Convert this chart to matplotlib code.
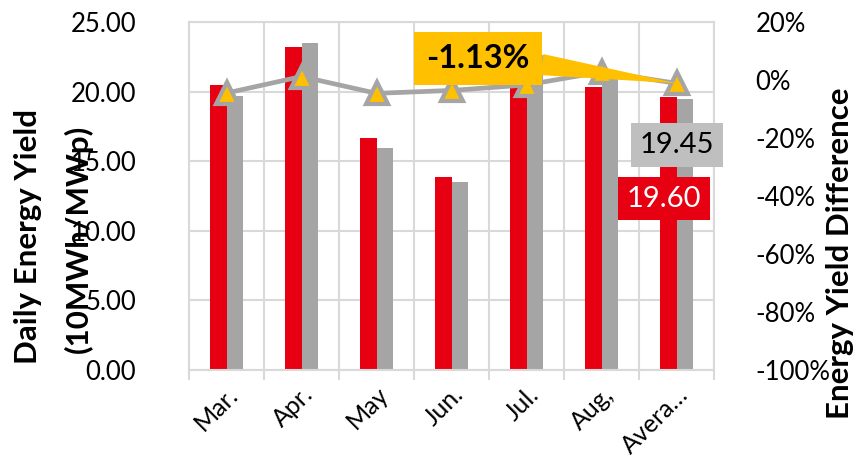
import matplotlib.pyplot as plt
import numpy as np

plt.rcParams['font.family'] = ['Lato', 'DejaVu Sans']

# data
months = ['Mar.', 'Apr.', 'May', 'Jun.', 'Jul.', 'Aug,', 'Avera…']
yield_red = [20.45, 23.23, 16.67, 13.86, 20.9, 20.35, 19.60]
yield_gray = [19.66, 23.51, 15.95, 13.48, 22.63, 20.9, 19.45]
diff_pct = [-4.5, 1.2, -4.6, -3.6, -1.7, 2.8, -1.13]

RED = '#E60012'
GRAY = '#A5A5A5'
YELLOW = '#FFC000'
GRID = '#D9D9D9'

fig = plt.figure(figsize=(8.61, 4.58), dpi=100)
ax1 = fig.add_axes([189 / 861, 1 - 370 / 458, 525 / 861, 348 / 458])
ax2 = ax1.twinx()

x = np.arange(len(months))
w = 0.22
ax1.bar(x - w / 2, yield_red, w, color=RED, zorder=2)
ax1.bar(x + w / 2, yield_gray, w, color=GRAY, zorder=2)

ax1.set_xlim(-0.5, len(months) - 0.5)
ax1.set_ylim(0, 25)
ax1.set_yticks(np.arange(0, 26, 5))
ax1.set_yticklabels([f'{v:.2f}' for v in np.arange(0, 26, 5)], fontsize=18.5)
ax1.set_xticks(x)
ax1.set_xticklabels(months, rotation=45, ha='right', rotation_mode='anchor', fontsize=18)
ax1.set_xticks(np.arange(-0.5, len(months)), minor=True)
ax1.tick_params(axis='x', which='major', length=0, pad=9)
ax1.tick_params(axis='x', which='minor', length=7, color=GRID, width=1.5)
ax1.tick_params(axis='y', length=0, pad=38)
ax1.grid(axis='y', color=GRID, lw=1.5, zorder=0)
ax1.grid(axis='x', which='minor', color=GRID, lw=1.5, zorder=0)
ax1.set_axisbelow(True)
for s in ax1.spines.values():
    s.set_color(GRID)
    s.set_linewidth(1.5)
for s in ax2.spines.values():
    s.set_visible(False)

ax2.plot(x, diff_pct, color=GRAY, lw=3.4, marker='^', ms=16, mfc=YELLOW, mec=GRAY, mew=3, zorder=3)
ax2.set_ylim(-100, 20)
ax2.set_yticks(np.arange(-100, 21, 20))
ax2.set_yticklabels([f'{v}%' for v in range(-100, 21, 20)], fontsize=18.5)
ax2.tick_params(axis='y', length=0, pad=30)

fig.text(28 / 861, 1 - 237 / 458, 'Daily Energy Yield', rotation=90, ha='center', va='center',
         fontsize=22.5, fontweight='bold')
fig.text(78 / 861, 1 - 239 / 458, '(10MWh/MWp)', rotation=90, ha='center', va='center',
         fontsize=22.5, fontweight='bold')
fig.text(840 / 861, 1 - 253 / 458, 'Energy Yield Difference', rotation=90, ha='center', va='center',
         fontsize=22.5, fontweight='bold')

# callouts
ax2.annotate(f'{diff_pct[-1]:.2f}%', xy=(x[-1], diff_pct[-1]), xytext=(3.35, 7.4),
             ha='center', va='center', fontsize=23.5, fontweight='bold', color='black',
             bbox=dict(boxstyle='square,pad=0.38', fc=YELLOW, ec='none'),
             arrowprops=dict(arrowstyle='wedge,tail_width=0.65', fc=YELLOW, ec='none',
                             relpos=(0.9, 0.4), shrinkA=0, shrinkB=0),
             zorder=5)
ax1.text(6.0, 16.16, f'{yield_gray[-1]:.2f}', ha='center', va='center', fontsize=21, color='black',
         bbox=dict(boxstyle='square,pad=0.3', fc='#BFBFBF', ec='none'), zorder=6)
ax1.text(5.83, 12.32, f'{yield_red[-1]:.2f}', ha='center', va='center', fontsize=21, color='white',
         bbox=dict(boxstyle='square,pad=0.3', fc=RED, ec='none'), zorder=6)

ax2.set_zorder(ax1.get_zorder() + 1)
ax2.patch.set_visible(False)

fig.savefig('out.png', dpi=100)
